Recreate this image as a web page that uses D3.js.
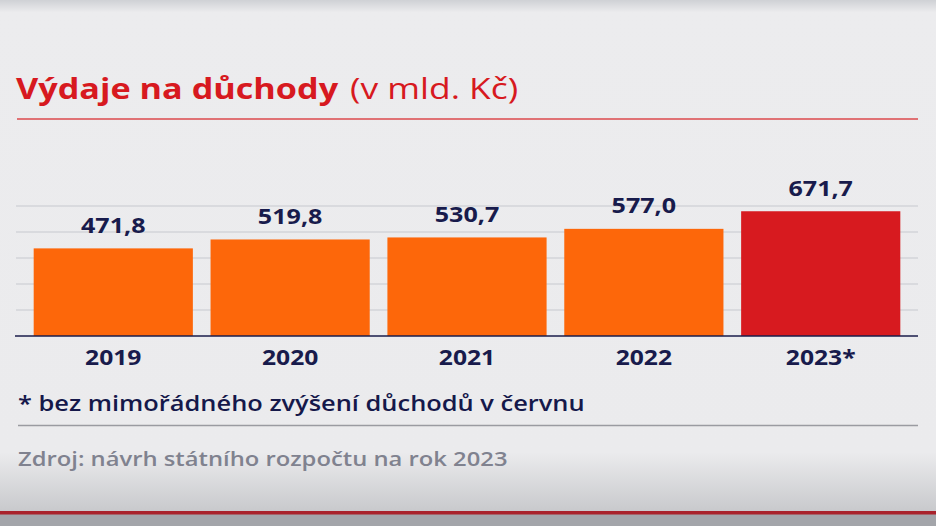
<!DOCTYPE html>
<html><head><meta charset="utf-8">
<script src="https://cdn.jsdelivr.net/npm/d3@7/dist/d3.min.js"></script>
<style>html,body{margin:0;padding:0;background:#ebebed;overflow:hidden}</style>
</head><body>
<script>
const categories = ["2019", "2020", "2021", "2022", "2023*"];
const values = [471.8, 519.8, 530.7, 577.0, 671.7];
const valueLabels = ["471,8", "519,8", "530,7", "577,0", "671,7"];
const gridTicks = [140, 280, 420, 560, 700];
const title = "Výdaje na důchody";
const subtitle = "(v mld. Kč)";
const footnote = "* bez mimořádného zvýšení důchodů v červnu";
const source = "Zdroj: návrh státního rozpočtu na rok 2023";

const W = 936, H = 526;
const FONT = "'Open Sans', sans-serif";
const svg = d3.select("body").append("svg").attr("width", W).attr("height", H)
  .style("font-family", FONT);
// widen glyphs horizontally to match the reference's wider typeface
function stretch(sel, f) {
  sel.each(function() {
    const w = this.getComputedTextLength();
    d3.select(this).attr("textLength", w * f).attr("lengthAdjust", "spacingAndGlyphs");
  });
}
const defs = svg.append("defs");
const g1 = defs.append("linearGradient").attr("id","bg").attr("x1",0).attr("y1",0).attr("x2",0).attr("y2",1);
g1.append("stop").attr("offset","0").attr("stop-color","#ececee");
g1.append("stop").attr("offset","0.86").attr("stop-color","#ebebed");
g1.append("stop").attr("offset","0.97").attr("stop-color","#c9cacd");
svg.append("rect").attr("width",W).attr("height",H).attr("fill","url(#bg)");
const g2 = defs.append("linearGradient").attr("id","top").attr("x1",0).attr("y1",0).attr("x2",0).attr("y2",1);
g2.append("stop").attr("offset","0").attr("stop-color","#cfd1d5");
g2.append("stop").attr("offset","1").attr("stop-color","#ebebed");
svg.append("rect").attr("x",0).attr("y",0).attr("width",W).attr("height",12).attr("fill","url(#top)");
svg.append("rect").attr("x",0).attr("y",514).attr("width",W).attr("height",12).attr("fill","#a3a5aa");
svg.append("rect").attr("x",0).attr("y",511).attr("width",W).attr("height",3.5).attr("fill","#a9222b");

// title
svg.append("text").attr("x",16).attr("y",99).attr("font-size",29).attr("font-weight",700).attr("fill","#d71920").text(title).call(stretch, 1.18);
svg.append("text").attr("x",350).attr("y",99).attr("font-size",29).attr("font-weight",500).attr("fill","#d71920").text(subtitle).call(stretch, 1.22);
svg.append("line").attr("x1",17).attr("x2",918).attr("y1",119).attr("y2",119).attr("stroke","#dc4a4c").attr("stroke-width",1.6);

// chart
const x = d3.scaleBand().domain(categories).range([16, 918]).paddingInner(0.1).paddingOuter(0.1);
const y = d3.scaleLinear().domain([0, 700]).range([336, 206]);

svg.append("g").selectAll("line").data(gridTicks).join("line")
  .attr("x1",16).attr("x2",918).attr("y1",d=>y(d)).attr("y2",d=>y(d))
  .attr("stroke","#d3d4d8").attr("stroke-width",1.3);

svg.append("g").selectAll("rect").data(values).join("rect")
  .attr("x",(d,i)=>x(categories[i])).attr("width",x.bandwidth())
  .attr("y",d=>y(d)).attr("height",d=>y(0)-y(d))
  .attr("fill",(d,i)=> i===4 ? "#d71a1f" : "#fd670a");

svg.append("line").attr("x1",15).attr("x2",918).attr("y1",y(0)).attr("y2",y(0)).attr("stroke","#1a1c4a").attr("stroke-width",1.6);

svg.append("g").selectAll("text").data(values).join("text")
  .attr("x",(d,i)=>x(categories[i])+x.bandwidth()/2).attr("y",d=>y(d)-15.5)
  .attr("text-anchor","middle").attr("font-size",22).attr("font-weight",700).attr("fill","#181b4c")
  .text((d,i)=>valueLabels[i]).call(stretch, 1.14);

const xAxis = svg.append("g").attr("transform",`translate(0,${y(0)})`).call(d3.axisBottom(x).tickSize(0).tickPadding(0));
xAxis.select(".domain").remove();
xAxis.selectAll("text").attr("y",29).attr("dy",0).attr("font-size",22).attr("font-weight",700)
  .attr("fill","#181b4c").style("font-family",FONT).call(stretch, 1.12);

// footnote
svg.append("text").attr("x",18).attr("y",411).attr("font-size",21).attr("font-weight",600).attr("fill","#15184a").text(footnote).call(stretch, 1.21);
svg.append("line").attr("x1",18).attr("x2",918).attr("y1",425.5).attr("y2",425.5).attr("stroke","#9a9ba1").attr("stroke-width",1.3);
svg.append("text").attr("x",18).attr("y",466).attr("font-size",20.5).attr("font-weight",600).attr("fill","#80828f").text(source).call(stretch, 1.16);
</script>
</body></html>
